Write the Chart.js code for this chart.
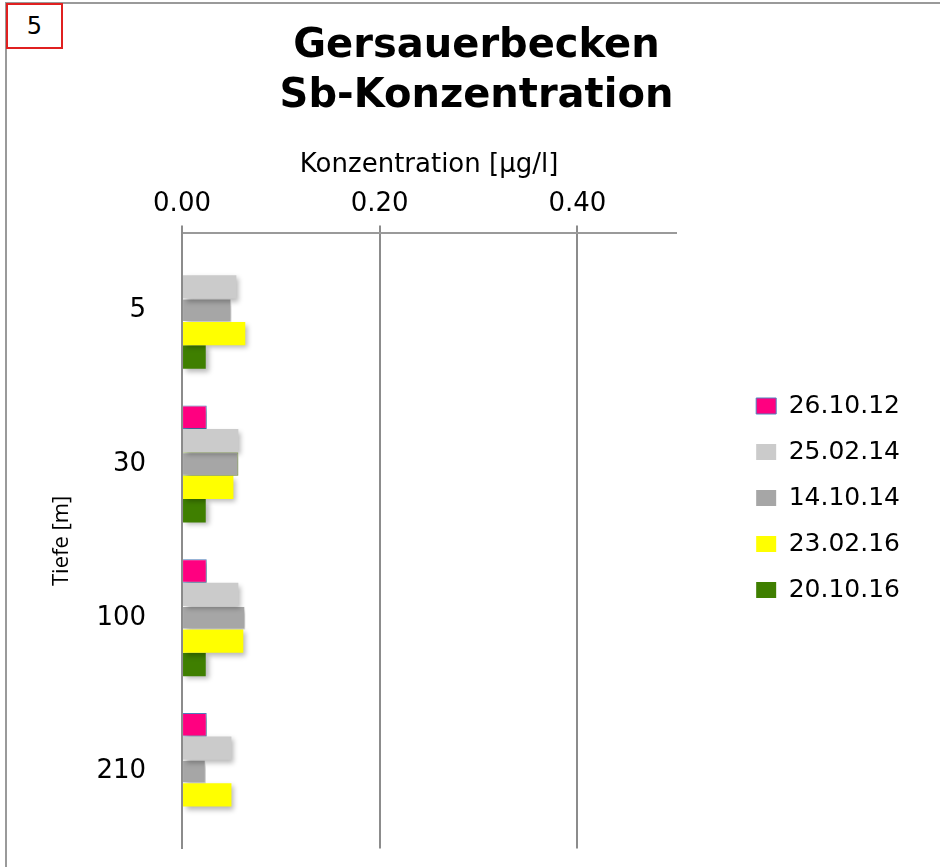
<!DOCTYPE html>
<html>
<head>
<meta charset="utf-8">
<script src="https://cdn.jsdelivr.net/npm/chart.js@4/dist/chart.umd.min.js"></script>
<style>
    body { margin: 0; background: #fff; }
    #wrap { position: relative; width: 940px; height: 867px; overflow: hidden; }
    #frame { position: absolute; left: 5px; top: 2px; right: -5px; bottom: -5px; border-top: 2px solid #9a9a9a; border-left: 2px solid #9a9a9a; pointer-events: none; }
    #num { position: absolute; left: 6px; top: 3px; width: 53px; height: 42px; border: 2px solid #e02020; background: #fff; font: 24px 'DejaVu Sans', sans-serif; line-height: 42px; text-align: center; color: #000; }
    canvas { position: absolute; left: 0; top: 0; }
</style>
</head>
<body>
<div id="wrap">
    <canvas id="myChart" width="940" height="867"></canvas>
    <div id="frame"></div>
    <div id="num">5</div>
</div>
<script>
const depths = ['5', '30', '100', '210'];
const dates = ['26.10.12', '25.02.14', '14.10.14', '23.02.16', '20.10.16'];
const sb261012 = [null, 0.025, 0.025, 0.025];
const sb250214 = [0.055, 0.057, 0.057, 0.050];
const sb141014 = [0.050, 0.057, 0.064, 0.024];
const sb230216 = [0.064, 0.052, 0.062, 0.050];
const sb201016 = [0.024, 0.024, 0.024, null];
const xTickValues = [0, 0.2, 0.4];

Chart.defaults.font.family = "'DejaVu Sans', sans-serif";
Chart.defaults.color = '#000';

// excel-like drop shadow under the bars
const barShadow = {
    id: 'barShadow',
    beforeDatasetsDraw(chart) {
        const ctx = chart.ctx;
        ctx.save();
        ctx.shadowColor = 'rgba(0, 0, 0, 0.28)';
        ctx.shadowBlur = 5;
        ctx.shadowOffsetX = 3;
        ctx.shadowOffsetY = 3;
    },
    afterDatasetsDraw(chart) {
        chart.ctx.restore();
    }
};

// leave a gap between the plot and the legend, and push the legend down a bit
const legendGap = 59;
const legendDrop = 146;
const legendShift = {
    id: 'legendShift',
    beforeInit(chart) {
        const legend = chart.legend;
        const fit = legend.fit;
        legend.fit = function () {
            fit.call(this);
            this.width += legendGap;
        };
    },
    afterLayout(chart) {
        chart.legend.left += legendGap;
        chart.legend.top += legendDrop;
    }
};

const ctx = document.querySelector('#myChart');
const chart = new Chart(ctx, {
    type: 'bar',
    data: {
        labels: depths,
        datasets: [
            { label: dates[0], data: sb261012, backgroundColor: '#ff0080', borderColor: '#4f81bd', borderWidth: 1, borderSkipped: 'start' },
            { label: dates[1], data: sb250214, backgroundColor: '#cbcbcb' },
            {
                label: dates[2], data: sb141014, backgroundColor: '#a6a6a6',
                borderColor: ['rgba(0,0,0,0)', '#9bbb59', 'rgba(0,0,0,0)', 'rgba(0,0,0,0)'],
                borderWidth: 1, borderSkipped: 'start'
            },
            { label: dates[3], data: sb230216, backgroundColor: '#ffff00' },
            { label: dates[4], data: sb201016, backgroundColor: '#3f7f00' },
        ],
    },
    options: {
        indexAxis: 'y',
        responsive: false,
        animation: false,
        barPercentage: 1,
        categoryPercentage: 0.76,
        layout: {
            padding: { left: 43, right: 30, top: 0, bottom: 17 }
        },
        scales: {
            x: {
                position: 'top',
                min: 0,
                max: 0.5,
                afterBuildTicks: (scale) => {
                    scale.ticks = xTickValues.map(v => ({ value: v }));
                },
                ticks: {
                    font: { size: 26 },
                    padding: 6,
                    callback: (v) => Number(v).toFixed(2),
                },
                grid: {
                    color: '#8c8c8c',
                    lineWidth: 2,
                    tickLength: 8,
                },
                border: { color: '#9a9a9a', width: 2 },
                title: {
                    display: true,
                    text: 'Konzentration [µg/l]',
                    font: { size: 26 },
                    padding: { top: 0, bottom: 1 },
                },
            },
            y: {
                grid: { color: 'transparent', drawTicks: true, tickLength: 33 },
                border: { display: true, color: '#8c8c8c', width: 2 },
                ticks: { font: { size: 26 }, padding: 3 },
                title: {
                    display: true,
                    text: 'Tiefe [m]',
                    font: { family: "'Open Sans', sans-serif", size: 22 },
                    padding: { top: 6, bottom: 18 },
                },
            },
        },
        plugins: {
            title: {
                display: true,
                text: ['Gersauerbecken', 'Sb-Konzentration'],
                font: { size: 40, weight: 'bold', lineHeight: 1.25 },
                color: '#000',
                padding: { top: 22, bottom: 28 },
            },
            legend: {
                position: 'right',
                labels: {
                    boxWidth: 20,
                    boxHeight: 16,
                    padding: 21,
                    font: { size: 25 },
                    color: '#000',
                },
            },
            tooltip: { enabled: false },
        },
    },
    plugins: [barShadow, legendShift],
});
</script>
</body>
</html>
